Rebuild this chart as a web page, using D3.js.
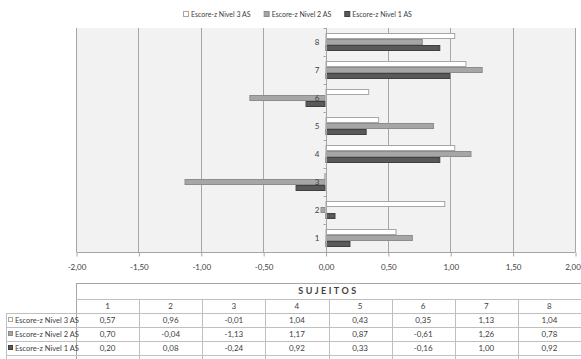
<!DOCTYPE html>
<html>
<head>
<meta charset="utf-8">
<script src="https://cdn.jsdelivr.net/npm/d3@7"></script>
<style>
  html, body { margin: 0; padding: 0; background: #fff; }
  svg { display: block; }
  text { font-family: Lato, "Open Sans", sans-serif; fill: #404040; }
</style>
</head>
<body>
<svg id="chart" width="581" height="359"></svg>
<script>
// Subjects and z-scores per level
const categories = ["1", "2", "3", "4", "5", "6", "7", "8"];
const seriesNames = ["Escore-z Nivel 3 AS", "Escore-z Nivel 2 AS", "Escore-z Nivel 1 AS"];
const nivel3 = [0.57, 0.96, -0.01, 1.04, 0.43, 0.35, 1.13, 1.04];
const nivel2 = [0.70, -0.04, -1.13, 1.17, 0.87, -0.61, 1.26, 0.78];
const nivel1 = [0.20, 0.08, -0.24, 0.92, 0.33, -0.16, 1.00, 0.92];
const xTicks = [-2, -1.5, -1, -0.5, 0, 0.5, 1, 1.5, 2];
const tableTitle = "SUJEITOS";

const seriesValues = [nivel3, nivel2, nivel1];
const fills = ["#ffffff", "#a6a6a6", "#595959"];
const strokes = ["#a6a6a6", "#8c8c8c", "#404040"];

const fmt = v => d3.format(".2f")(v).replace(".", ",").replace("−", "-");

const svg = d3.select("#chart");

// Plot area
const x = d3.scaleLinear().domain([-2, 2]).range([76, 575]);
const y = d3.scaleBand().domain(categories.slice().reverse()).range([28, 252])
  .paddingInner(0.357).paddingOuter(0.1785);
const ySub = d3.scaleBand().domain(seriesNames).range([0, y.bandwidth()]);

svg.append("rect")
  .attr("x", x(-2)).attr("y", 28)
  .attr("width", x(2) - x(-2)).attr("height", 224)
  .attr("fill", "#f2f2f2");

// vertical gridlines
svg.append("g").selectAll("line").data(xTicks).join("line")
  .attr("x1", d => Math.round(x(d)) + 0.5).attr("x2", d => Math.round(x(d)) + 0.5)
  .attr("y1", 28).attr("y2", 252)
  .attr("stroke", "#a6a6a6").attr("stroke-width", 1);

// bars
seriesNames.forEach((name, si) => {
  svg.append("g").selectAll("rect").data(categories).join("rect")
    .attr("x", (c, i) => x(Math.min(0, seriesValues[si][i])) + 0.5)
    .attr("y", c => y(c) + ySub(name) + 0.5)
    .attr("width", (c, i) => Math.max(0.5, Math.abs(x(seriesValues[si][i]) - x(0)) - 1))
    .attr("height", ySub.bandwidth() - 1)
    .attr("fill", fills[si])
    .attr("stroke", strokes[si])
    .attr("stroke-width", 1);
});

// x axis
const xAxis = d3.axisBottom(x).tickValues(xTicks).tickFormat(fmt).tickSize(4).tickPadding(8);
const gx = svg.append("g").attr("transform", "translate(0.5,252.5)").call(xAxis);
gx.select(".domain").attr("stroke", "#a6a6a6").attr("d", `M${x(-2)},0H${x(2)}`);
gx.selectAll(".tick line").attr("stroke", "#a6a6a6");
gx.selectAll(".tick text").style("font-size", "8px").attr("fill", "#404040")
  .attr("dx", d => d === 2 ? -3 : 0);

// category axis at zero
const x0 = Math.round(x(0)) + 0.5;
svg.append("line").attr("x1", x0).attr("x2", x0).attr("y1", 28).attr("y2", 252)
  .attr("stroke", "#a6a6a6");
const bounds = categories.map(c => y(c) - y.step() * y.paddingInner() / 2).concat([252]);
svg.append("g").selectAll("line").data(bounds).join("line")
  .attr("x1", x0 - 3).attr("x2", x0)
  .attr("y1", d => Math.round(d) + 0.5).attr("y2", d => Math.round(d) + 0.5)
  .attr("stroke", "#a6a6a6");
svg.append("g").selectAll("text").data(categories).join("text")
  .attr("x", x0 - 7)
  .attr("y", c => y(c) + y.bandwidth() / 2)
  .attr("text-anchor", "end").attr("dy", "0.35em")
  .style("font-size", "8px")
  .text(c => c);

// legend, centred above the plot
const legend = svg.append("g");
let lx = 0;
seriesNames.forEach((name, si) => {
  const g = legend.append("g").attr("transform", `translate(${lx},0)`);
  g.append("rect").attr("x", 0.5).attr("y", -3.5).attr("width", 5).attr("height", 5)
    .attr("fill", fills[si]).attr("stroke", strokes[si]);
  const t = g.append("text").attr("x", 8).attr("dy", "0.3em").style("font-size", "7px").text(name);
  lx += 8 + t.node().getComputedTextLength() + (si < seriesNames.length - 1 ? 13 : 0);
});
legend.attr("transform", `translate(${Math.round(297 - lx / 2)},15)`);

// data table
const colX = d3.scaleBand().domain(categories).range([76, 581]);
const rowTop = [283, 299, 313, 327, 341, 355];
const lineColor = "#bfbfbf";
const table = svg.append("g");

table.append("line").attr("x1", 76).attr("x2", 581).attr("y1", rowTop[0] + 0.5).attr("y2", rowTop[0] + 0.5)
  .attr("stroke", "#a6a6a6");
table.append("line").attr("x1", 76.5).attr("x2", 76.5).attr("y1", rowTop[0]).attr("y2", 359)
  .attr("stroke", "#a6a6a6");
table.append("text").attr("x", (76 + 581) / 2).attr("y", (rowTop[0] + rowTop[1]) / 2)
  .attr("dy", "0.35em").attr("text-anchor", "middle")
  .style("font-size", "9px").style("font-weight", "bold").style("letter-spacing", "2.5px")
  .attr("fill", "#262626").text(tableTitle);

// horizontal rules
[rowTop[1], rowTop[2], rowTop[3], rowTop[4], rowTop[5]].forEach((yy, i) => {
  table.append("line").attr("x1", i === 0 ? 76 : 6).attr("x2", 581)
    .attr("y1", yy + 0.5).attr("y2", yy + 0.5).attr("stroke", lineColor);
});
// vertical rules
categories.slice(1).forEach(c => {
  table.append("line").attr("x1", Math.round(colX(c)) + 0.5).attr("x2", Math.round(colX(c)) + 0.5)
    .attr("y1", rowTop[1]).attr("y2", 359).attr("stroke", lineColor);
});
table.append("line").attr("x1", 6.5).attr("x2", 6.5).attr("y1", rowTop[2]).attr("y2", 359).attr("stroke", lineColor);

// header numbers
table.append("g").selectAll("text").data(categories).join("text")
  .attr("x", c => colX(c) + colX.bandwidth() / 2)
  .attr("y", (rowTop[1] + rowTop[2]) / 2).attr("dy", "0.35em").attr("text-anchor", "middle")
  .style("font-size", "8px").text(c => c);

// series rows
seriesNames.forEach((name, si) => {
  const cy = (rowTop[2 + si] + rowTop[3 + si]) / 2;
  table.append("rect").attr("x", 8.5).attr("y", cy - 2.5).attr("width", 4).attr("height", 4)
    .attr("fill", fills[si]).attr("stroke", strokes[si]);
  table.append("text").attr("x", 15).attr("y", cy).attr("dy", "0.35em")
    .style("font-size", "7.5px").text(name);
  table.append("g").selectAll("text").data(seriesValues[si]).join("text")
    .attr("x", (v, i) => colX(categories[i]) + colX.bandwidth() / 2)
    .attr("y", cy).attr("dy", "0.35em").attr("text-anchor", "middle")
    .style("font-size", "8px").text(v => fmt(v));
});
</script>
</body>
</html>
